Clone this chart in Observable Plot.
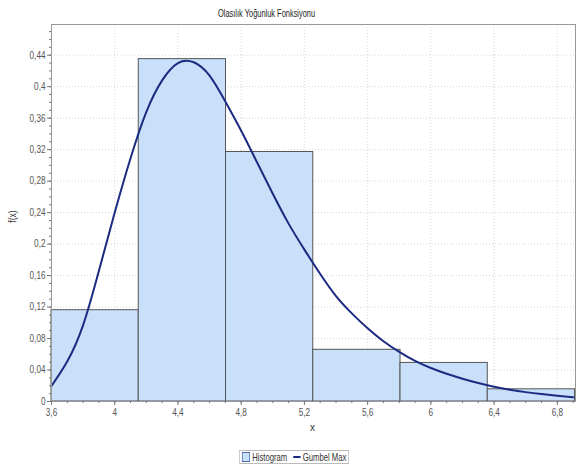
<!DOCTYPE html>
<html>
<head>
<meta charset="utf-8">
<script src="https://cdn.jsdelivr.net/npm/d3@7"></script>
<script src="https://cdn.jsdelivr.net/npm/@observablehq/plot@0.6"></script>
<style>
  body { margin: 0; background: #fff; }
  #wrap { position: relative; width: 576px; height: 470px; font-family: "Liberation Sans", Arial, sans-serif; color: #333; }
  #wrap svg { position: absolute; left: 0; top: 0; }
  .lbl { position: absolute; font-size: 10px; white-space: nowrap; }
  #title { left: 218px; top: 7px; font-size: 10.5px; color: #222; transform-origin: 0 0; }
  #xlab { left: 310px; top: 422px; }
  #ylab { left: 5px; top: 211px; transform: rotate(-90deg) scaleX(0.85); }
  #legend { position: absolute; left: 239px; top: 450px; height: 12px; padding: 0 3px; border: 1px solid #bbb; font-size: 10.5px; display: flex; align-items: center; gap: 3px; transform-origin: 0 0; white-space: nowrap; }
  .sw { display: inline-block; width: 9px; height: 8px; background: #c8e0f9; border: 1px solid #4a6fa5; }
  .ln { display: inline-block; width: 10px; height: 2px; background: #1c2a82; margin-left: 5px; }
</style>
</head>
<body>
<div id="wrap">
  <div id="chart"></div>
  <div class="lbl" id="title">Olasılık Yoğunluk Fonksiyonu</div>
  <div class="lbl" id="xlab">x</div>
  <div class="lbl" id="ylab">f(x)</div>
  <div id="legend"><span class="sw"></span><span>Histogram</span><span class="ln"></span><span>Gumbel Max</span></div>
</div>
<script>
// Histogram bins
const binStart = [3.6, 4.152, 4.704, 5.256, 5.808, 6.36];
const binEnd   = [4.152, 4.704, 5.256, 5.808, 6.36, 6.912];
const density  = [0.116, 0.435, 0.317, 0.0657, 0.049, 0.0155];

// Gumbel Max fitted curve
const curveX = [3.6, 3.7, 3.8, 3.9, 4.0, 4.1, 4.2, 4.3, 4.4, 4.5, 4.6, 4.7, 4.8, 4.9, 5.0, 5.1, 5.2, 5.3, 5.4, 5.5, 5.6, 5.7, 5.8, 5.9, 6.0, 6.1, 6.2, 6.3, 6.4, 6.5, 6.6, 6.7, 6.8, 6.9];
const curveY = [0.0197, 0.051, 0.097, 0.166, 0.240, 0.309, 0.368, 0.408, 0.430, 0.431, 0.414, 0.381, 0.344, 0.304, 0.264, 0.226, 0.193, 0.162, 0.134, 0.112, 0.093, 0.0765, 0.063, 0.0515, 0.0425, 0.0352, 0.029, 0.0235, 0.0188, 0.015, 0.0119, 0.0094, 0.0073, 0.0055];

// Tick values and labels
const xTicks = [3.6, 4, 4.4, 4.8, 5.2, 5.6, 6, 6.4, 6.8];
const yTicks = [0, 0.04, 0.08, 0.12, 0.16, 0.2, 0.24, 0.28, 0.32, 0.36, 0.4, 0.44];
const xMinor = d3.range(36, 70).map(v => v / 10);
const yMinor = d3.range(0, 48).map(v => v / 100);

const fmt = v => String(+v.toFixed(3)).replace(".", ",");

const bins = binStart.map((s, i) => ({x1: s, x2: binEnd[i], y: density[i]}));
const curve = curveX.map((x, i) => ({x, y: curveY[i]}));

const plot = Plot.plot({
  width: 576,
  height: 470,
  marginLeft: 51,
  marginRight: 1,
  marginTop: 24,
  marginBottom: 69,
  style: {fontFamily: '"Liberation Sans", Arial, sans-serif', fontSize: "10.5px", color: "#555", background: "transparent"},
  x: {domain: [3.6, 6.915]},
  y: {domain: [0, 0.479]},
  marks: [
    Plot.gridX(xTicks, {stroke: "#bbb", strokeOpacity: 0.6, strokeDasharray: "1,2"}),
    Plot.gridY(yTicks, {stroke: "#bbb", strokeOpacity: 0.6, strokeDasharray: "1,2"}),
    Plot.rectY(bins, {x1: "x1", x2: "x2", y: "y", fill: "#c8e0f9", stroke: "#555", strokeWidth: 1}),
    Plot.line(curve, {x: "x", y: "y", stroke: "#1c2a82", strokeWidth: 2, curve: "natural"}),
    Plot.frame({stroke: "#999"}),
    Plot.axisX(xMinor, {tickSize: 2, text: null, label: null, stroke: "#777"}),
    Plot.axisY(yMinor, {tickSize: 2, text: null, label: null, stroke: "#777"}),
    Plot.axisX(xTicks, {tickSize: 4, tickFormat: fmt, label: null, stroke: "#777", fill: "#555", tickPadding: 3}),
    Plot.axisY(yTicks, {tickSize: 4, tickFormat: fmt, label: null, stroke: "#777", fill: "#555", tickPadding: 2})
  ]
});
// narrow the tick labels horizontally to mimic a condensed face
d3.select(plot).selectAll("text").each(function() {
  const t = this.getAttribute("transform");
  if (t) this.setAttribute("transform", t + " scale(0.78,1)");
});
document.getElementById("chart").appendChild(plot);

// condense title and legend to the reference widths
const title = document.getElementById("title");
title.style.transform = `scaleX(${97 / title.offsetWidth})`;
const legend = document.getElementById("legend");
legend.style.transform = `scaleX(${110 / legend.offsetWidth})`;
</script>
</body>
</html>
